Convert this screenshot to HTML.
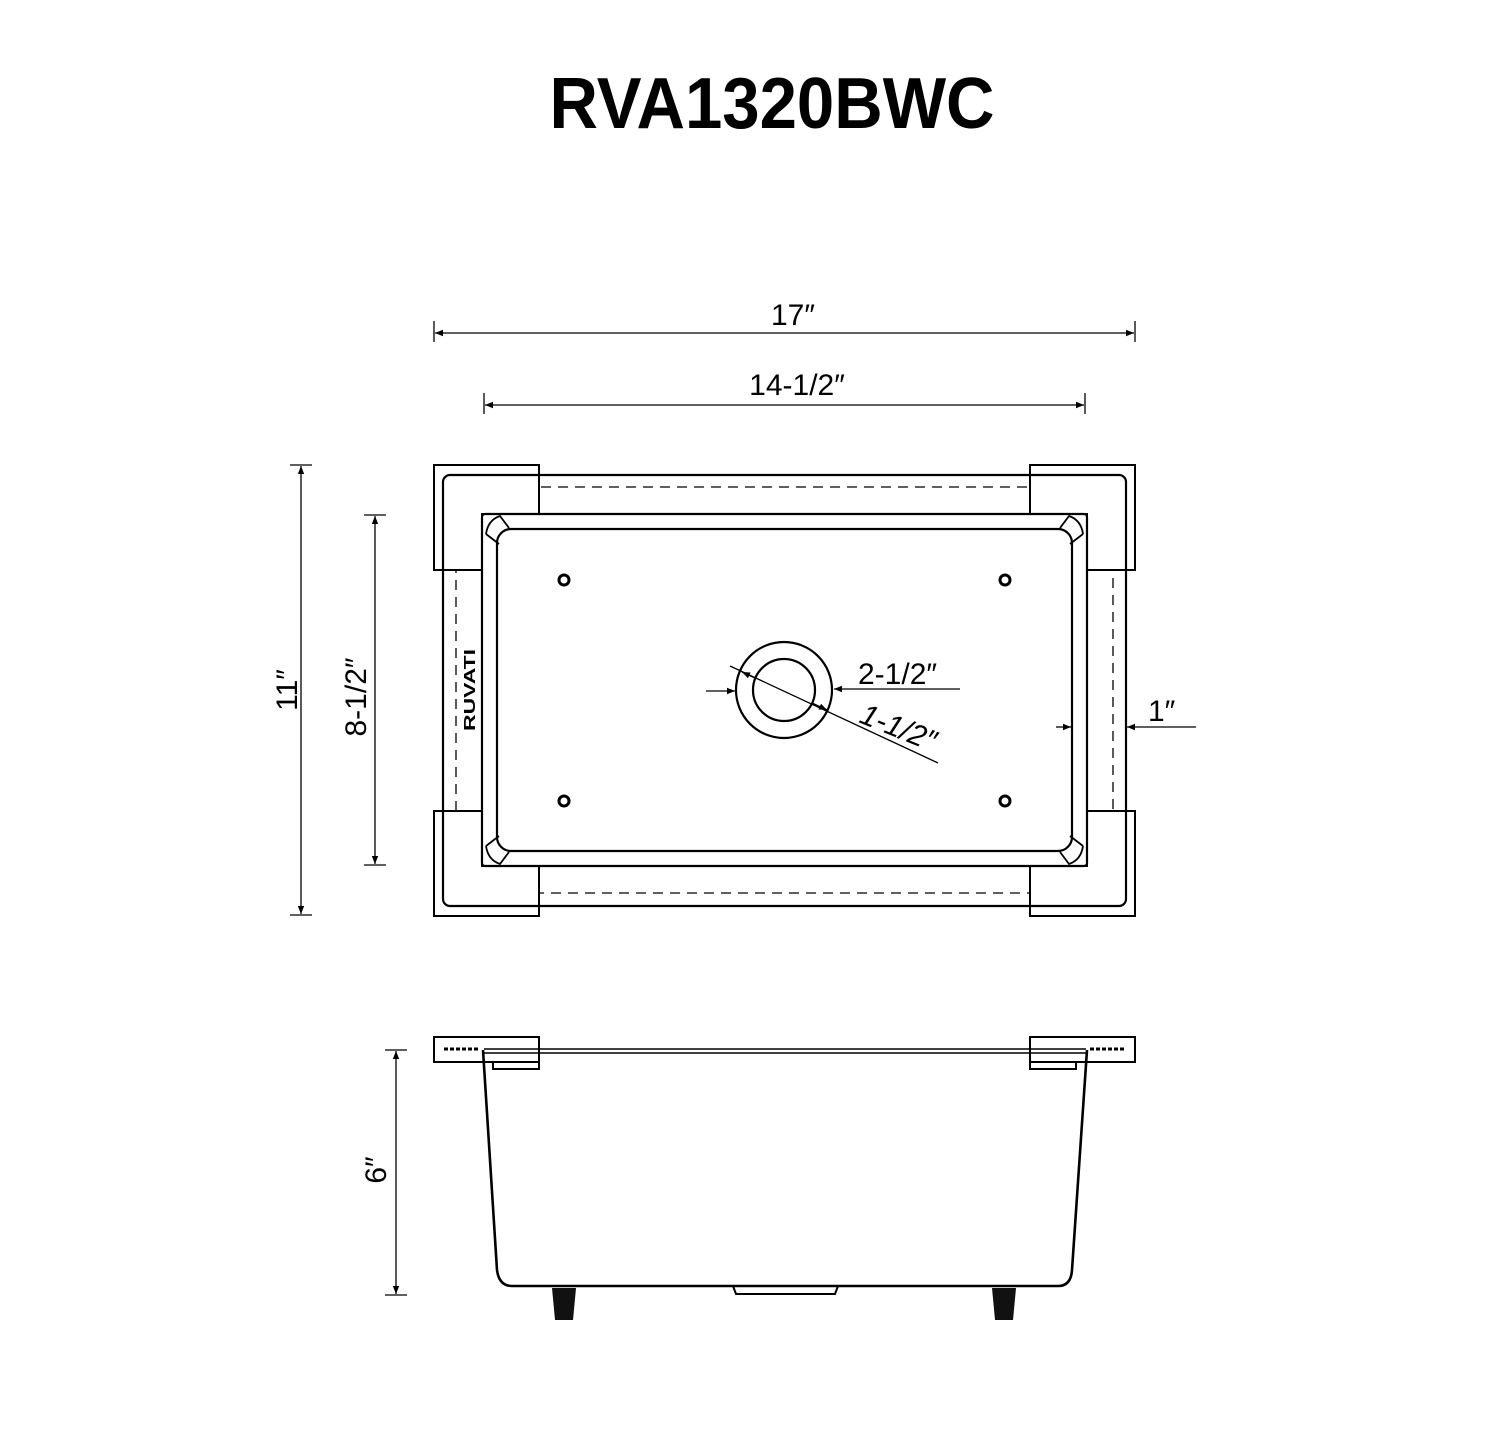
<!DOCTYPE html>
<html><head><meta charset="utf-8"><style>
html,body{margin:0;padding:0;background:#fff;}
svg{display:block;}
text{font-family:"Liberation Sans",sans-serif;fill:#000;}
</style></head><body>
<svg width="1500" height="1432" viewBox="0 0 1500 1432" xmlns="http://www.w3.org/2000/svg">
<defs>
<marker id="a" viewBox="0 0 10 10" refX="10" refY="5" markerWidth="16" markerHeight="8" orient="auto-start-reverse" markerUnits="userSpaceOnUse"><path d="M0,1 L10,5 L0,9 Z" fill="#000"/></marker>
</defs>
<text x="772" y="128" font-size="72" font-weight="bold" text-anchor="middle" textLength="445" lengthAdjust="spacingAndGlyphs">RVA1320BWC</text>

<g stroke="#000" stroke-width="1.3" fill="none">
<line x1="434" y1="321" x2="434" y2="342"/><line x1="1135" y1="321" x2="1135" y2="342"/>
<line x1="435" y1="333" x2="1134" y2="333" marker-start="url(#a)" marker-end="url(#a)"/>
<line x1="484" y1="393" x2="484" y2="414"/><line x1="1085" y1="393" x2="1085" y2="414"/>
<line x1="485" y1="405" x2="1084" y2="405" marker-start="url(#a)" marker-end="url(#a)"/>
<line x1="290" y1="465" x2="312" y2="465"/><line x1="290" y1="915" x2="312" y2="915"/>
<line x1="301" y1="466" x2="301" y2="914" marker-start="url(#a)" marker-end="url(#a)"/>
<line x1="364" y1="515" x2="386" y2="515"/><line x1="364" y1="865" x2="386" y2="865"/>
<line x1="375" y1="516" x2="375" y2="864" marker-start="url(#a)" marker-end="url(#a)"/>
<line x1="385" y1="1050" x2="407" y2="1050"/><line x1="385" y1="1295" x2="407" y2="1295"/>
<line x1="396" y1="1051" x2="396" y2="1294" marker-start="url(#a)" marker-end="url(#a)"/>
</g>
<text x="793" y="325" font-size="30" text-anchor="middle">17″</text>
<text x="797" y="395" font-size="30" text-anchor="middle">14-1/2″</text>
<text transform="translate(297,690) rotate(-90)" font-size="30" text-anchor="middle">11″</text>
<text transform="translate(366,697) rotate(-90)" font-size="30" text-anchor="middle">8-1/2″</text>
<text transform="translate(386,1170) rotate(-90)" font-size="30" text-anchor="middle">6″</text>

<g stroke="#000" fill="none">
<rect x="456" y="487" width="657" height="406" stroke-width="1.3" stroke-dasharray="10,7"/>
<g fill="#fff" stroke-width="2">
<path d="M434,465 H539 V514 H482 V570 H434 Z"/>
<path d="M1135,465 H1030 V514 H1087 V570 H1135 Z"/>
<path d="M434,916 H539 V866 H482 V811 H434 Z"/>
<path d="M1135,916 H1030 V866 H1087 V811 H1135 Z"/>
</g>
<rect x="443" y="475" width="683" height="431" rx="7" stroke-width="2.2"/>
<rect x="482" y="514" width="605" height="352" rx="3" fill="#fff" stroke-width="2.2"/>
<rect x="497" y="529" width="575" height="322" rx="14" stroke-width="2.2"/>
<g stroke-width="1.8">
<path d="M486,534 Q488,520 500,516 L509,528 M486,534 L499,544"/>
<path d="M1083,534 Q1081,520 1069,516 L1060,528 M1083,534 L1070,544"/>
<path d="M486,846 Q488,860 500,864 L509,852 M486,846 L499,836"/>
<path d="M1083,846 Q1081,860 1069,864 L1060,852 M1083,846 L1070,836"/>
</g>
<g stroke-width="3">
<circle cx="564" cy="580" r="5"/><circle cx="1005" cy="580" r="5"/>
<circle cx="564" cy="801" r="5"/><circle cx="1005" cy="801" r="5"/>
</g>
<circle cx="784" cy="690" r="48" stroke-width="2.2"/>
<circle cx="784" cy="690" r="31" stroke-width="2.2"/>
<g stroke-width="1.3">
<line x1="706" y1="691" x2="735" y2="691" marker-end="url(#a)"/>
<line x1="960" y1="689" x2="834" y2="689" marker-end="url(#a)"/>
<line x1="730" y1="666" x2="938" y2="763"/>
<line x1="755" y1="678" x2="742" y2="672" marker-end="url(#a)"/>
<line x1="812" y1="703" x2="827" y2="710" marker-end="url(#a)"/>
<line x1="1056" y1="727" x2="1071" y2="727" marker-end="url(#a)"/>
<line x1="1196" y1="727" x2="1127" y2="727" marker-end="url(#a)"/>
</g>
</g>
<text x="858" y="684" font-size="30">2-1/2″</text>
<text transform="translate(858,722) rotate(22)" font-size="30" font-style="italic">1-1/2″</text>
<text x="1148" y="721" font-size="30">1″</text>
<text transform="translate(475,690) rotate(-90)" font-size="16" font-weight="bold" text-anchor="middle" textLength="82" lengthAdjust="spacingAndGlyphs">RUVATI</text>

<g stroke="#000" fill="none" stroke-width="2">
<rect x="434" y="1037" width="105" height="25"/>
<rect x="1030" y="1037" width="105" height="25"/>
<rect x="493" y="1062" width="46" height="7"/>
<rect x="1030" y="1062" width="46" height="7"/>
<line x1="484" y1="1049" x2="1086" y2="1049" stroke-width="1.5"/>
<line x1="484" y1="1053" x2="1086" y2="1053" stroke-width="1.5"/>
<path d="M483,1050 L497,1270 Q499,1286 512,1286 H1058 Q1071,1286 1072,1270 L1087,1050" stroke-width="2.6"/>
<path d="M733,1286 L736,1294 H835 L838,1286" stroke-width="2"/>
<line x1="444" y1="1049" x2="480" y2="1049" stroke-width="3" stroke-dasharray="4,2"/>
<line x1="1090" y1="1049" x2="1126" y2="1049" stroke-width="3" stroke-dasharray="4,2"/>
</g>
<path d="M552,1288 H576 L573,1320 H555 Z" fill="#111"/>
<path d="M992,1288 H1016 L1013,1320 H995 Z" fill="#111"/>
</svg>
</body></html>
